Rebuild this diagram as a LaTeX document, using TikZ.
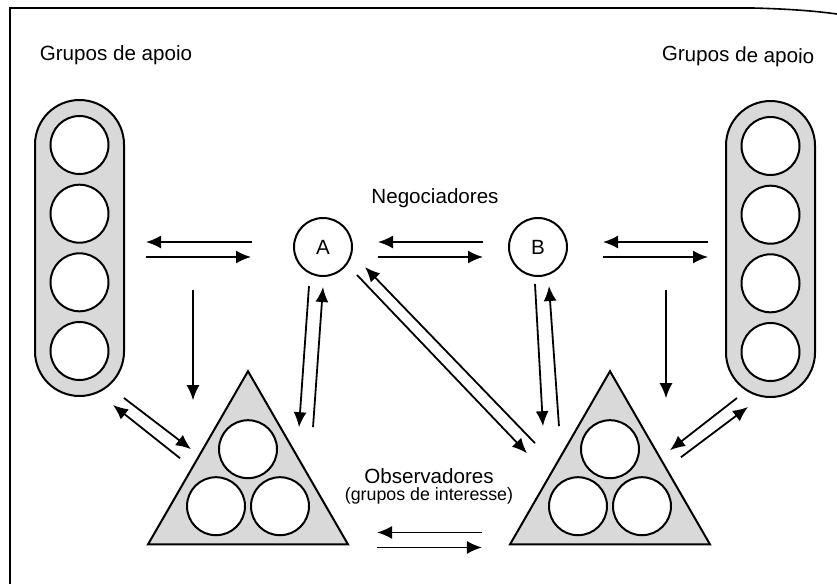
\documentclass[tikz,border=0pt]{standalone}
\usepackage{fontspec}
\setmainfont{Liberation Sans}
\usetikzlibrary{arrows.meta,calc,shapes.geometric}

\begin{document}
\begin{tikzpicture}[x=0.5pt,y=-0.5pt,
		arr/.style={-{Latex[length=7.5pt,width=6.5pt]},line width=0.9pt},
		grp/.style={draw,line width=1pt,fill=black!15,minimum width=44.5pt,minimum height=148pt,rounded corners=22.25pt,inner sep=0pt,outer sep=0pt},
		obsgrp/.style={regular polygon,regular polygon sides=3,draw,line width=1pt,fill=black!15,minimum size=115.5pt,inner sep=0pt,outer sep=0pt},
		mbr/.style={circle,draw,line width=1pt,fill=white,minimum size=29pt,inner sep=0pt,outer sep=0pt},
		lbl/.style={anchor=base,font=\fontsize{10.3pt}{12pt}\selectfont}]
	\useasboundingbox (0,0) rectangle (837,584);
	\draw[line width=0.8pt] (10,584) -- (10,8) -- (753,8) .. controls (790,9) and (815,11) .. (837,14);
	% groups
	\node[grp] (LP) at (79.5,248) {};
	\node[grp] (RP) at (770.5,249) {};
	\foreach \dy [count=\i] in {-103,-34.3,34.3,103} {
		\node[mbr] (L\i) at ($(LP)+(0,\dy)$) {};
		\node[mbr] (R\i) at ($(RP)+(0,\dy)$) {};
	}
	\node[obsgrp] (TL) at (248,486.7) {};
	\node[obsgrp] (TR) at (610,486.7) {};
	\foreach \dx/\dy [count=\i] in {0/78,-32/135,32/135} {
		\node[mbr] (TL\i) at ($(TL.corner 1)+(\dx,\dy)$) {};
		\node[mbr] (TR\i) at ($(TR.corner 1)+(\dx,\dy)$) {};
	}
	% negotiators
	\node[mbr,font=\fontsize{10.3pt}{12pt}\selectfont] (A) at (323,247) {A};
	\node[mbr,font=\fontsize{10.3pt}{12pt}\selectfont] (B) at (538,247) {B};
	% labels
	\node[lbl] (grpL) at (116,60) {Grupos de apoio};
	\node[lbl,rotate=-1] (grpR) at (738,62) {Grupos de apoio};
	\node[lbl] (neg) at (435,203) {Negociadores};
	\node[lbl] (obsT) at (429,483) {Observadores};
	\node[anchor=base,font=\fontsize{8.9pt}{10pt}\selectfont] (obsS) at (429,500) {(grupos de interesse)};
	% arrows
	\draw[arr] ($(A)+(-71,-5)$) -- ($(LP)+(66.5,-6)$);
	\draw[arr] ($(LP)+(66.5,9)$) -- ($(A)+(-72,10)$);
	\draw[arr] ($(B)+(-55,-5)$) -- ($(A)+(55,-5)$);
	\draw[arr] ($(A)+(55,10)$) -- ($(B)+(-55,10)$);
	\draw[arr] ($(RP)+(-62.5,-7)$) -- ($(B)+(65,-5)$);
	\draw[arr] ($(B)+(65,10)$) -- ($(RP)+(-62.5,8)$);
	\draw[arr] ($(LP)+(113.5,42)$) -- ($(TL.corner 1)+(-55,29)$);
	\draw[arr] ($(RP)+(-104.5,41)$) -- ($(TR.corner 1)+(56,27)$);
	\draw[arr] ($(A)+(-14,39)$) -- ($(TL.corner 1)+(51,56)$);
	\draw[arr] ($(TL.corner 1)+(65,56)$) -- ($(A)+(0,40)$);
	\draw[arr] ($(B)+(-3,37)$) -- ($(TR.corner 1)+(-67,55)$);
	\draw[arr] ($(TR.corner 1)+(-51,55)$) -- ($(B)+(11,39)$);
	\draw[arr] ($(A)+(34,28)$) -- ($(TR.corner 1)+(-83,82)$);
	\draw[arr] ($(TR.corner 1)+(-75,72)$) -- ($(A)+(42,20)$);
	\draw[arr] ($(LP)+(44.5,150)$) -- ($(TL.corner 1)+(-57,78)$);
	\draw[arr] ($(TL.corner 1)+(-68,87)$) -- ($(LP)+(33.5,157)$);
	\draw[arr] ($(RP)+(-33.5,149)$) -- ($(TR.corner 1)+(60,79)$);
	\draw[arr] ($(TR.corner 1)+(71,86)$) -- ($(RP)+(-22.5,158)$);
	\draw[arr] ($(TR.corner 2)+(-28,-12)$) -- ($(TL.corner 3)+(29,-12)$);
	\draw[arr] ($(TL.corner 3)+(29,3)$) -- ($(TR.corner 2)+(-28,3)$);
\end{tikzpicture}
\end{document}
